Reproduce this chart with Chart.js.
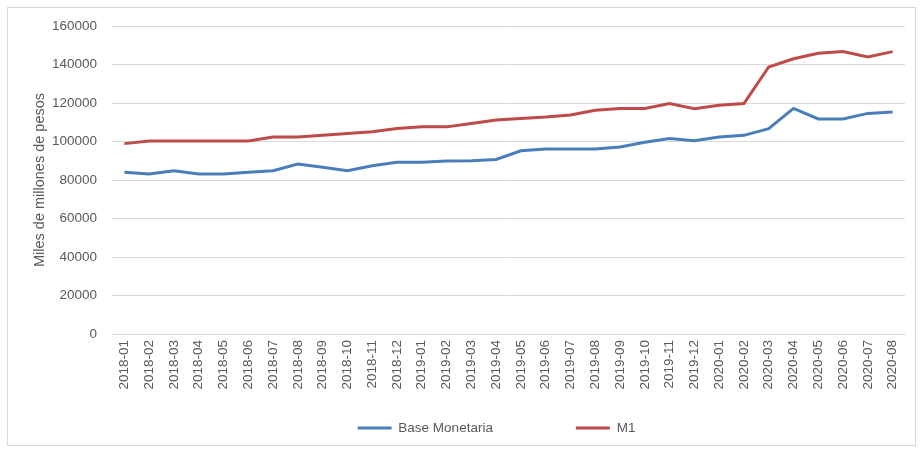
<!DOCTYPE html>
<html>
<head>
<meta charset="utf-8">
<script src="https://cdn.jsdelivr.net/npm/chart.js@4"></script>
<style>
  html, body { margin: 0; padding: 0; background: #fff; }
  #wrap { position: relative; width: 924px; height: 453px; }
  #frame { position: absolute; left: 7px; top: 7px; width: 909px; height: 439px; border: 1px solid #d9d9d9; box-sizing: border-box; pointer-events: none; }
</style>
</head>
<body>
<div id="wrap">
  <canvas id="chart" width="924" height="453"></canvas>
  <div id="frame"></div>
</div>
<script>
const meses = [
  '2018-01','2018-02','2018-03','2018-04','2018-05','2018-06','2018-07','2018-08','2018-09','2018-10','2018-11','2018-12',
  '2019-01','2019-02','2019-03','2019-04','2019-05','2019-06','2019-07','2019-08','2019-09','2019-10','2019-11','2019-12',
  '2020-01','2020-02','2020-03','2020-04','2020-05','2020-06','2020-07','2020-08'
];
const baseMonetaria = [
  84000, 83100, 84800, 83100, 83100, 84000, 84800, 88300, 86600, 84800, 87400, 89200,
  89200, 89900, 90000, 90700, 95200, 96100, 96100, 96100, 97100, 99600, 101600, 100400,
  102300, 103200, 106700, 117200, 111700, 111700, 114600, 115300
];
const m1 = [
  98900, 100300, 100300, 100300, 100300, 100300, 102300, 102300, 103200, 104200, 105100, 106800,
  107700, 107600, 109400, 111200, 112000, 112700, 113800, 116200, 117200, 117200, 119700, 117000,
  118800, 119700, 138700, 143000, 145800, 146700, 143900, 146700
];
const yTicks = { min: 0, max: 160000, step: 20000 };

const gris = '#595959';
const fuente = "'Liberation Sans', 'Open Sans', sans-serif";
const tam = 13.5;

// coloca la leyenda donde la tiene el original (hueco ancho entre series)
const legendOffset = {
  id: 'legendOffset',
  afterLayout(chart) {
    const lg = chart.legend;
    const pad = lg.options.labels.padding;
    lg.left += 30;
    lg.right += 30;
    lg.top = 428 - pad - tam / 2;
    lg.bottom = chart.height;
  },
};

new Chart(document.getElementById('chart'), {
  type: 'line',
  data: {
    labels: meses,
    datasets: [
      { label: 'Base Monetaria', data: baseMonetaria, borderColor: '#4a7ebb', backgroundColor: '#4a7ebb', borderWidth: 3, pointRadius: 0, tension: 0 },
      { label: 'M1', data: m1, borderColor: '#be4b48', backgroundColor: '#be4b48', borderWidth: 3, pointRadius: 0, tension: 0 },
    ],
  },
  plugins: [legendOffset],
  options: {
    responsive: false,
    animation: false,
    layout: { padding: { left: 28, right: 19, top: 26, bottom: 27 } },
    plugins: {
      tooltip: { enabled: false },
      legend: {
        position: 'bottom',
        maxHeight: 30,
        labels: {
          color: gris, font: { family: fuente, size: tam },
          usePointStyle: true, pointStyle: 'line', pointStyleWidth: 34, padding: 83,
        },
      },
    },
    scales: {
      x: {
        offset: true,
        grid: { display: false, drawTicks: false },
        border: { display: true, color: '#d9d9d9' },
        ticks: { color: gris, font: { family: fuente, size: tam }, minRotation: 90, maxRotation: 90, autoSkip: false, padding: 6 },
        afterFit: (scale) => { scale.height = 62; },
      },
      y: {
        min: yTicks.min,
        max: yTicks.max,
        grid: { color: '#d9d9d9', drawTicks: false },
        border: { display: false },
        ticks: { stepSize: yTicks.step, color: gris, font: { family: fuente, size: tam }, padding: 15, callback: (v) => String(v) },
        title: { display: true, text: 'Miles de millones de pesos', color: gris, font: { family: fuente, size: 14.5 }, padding: 3 },
        afterFit: (scale) => { scale.width = 84; },
      },
    },
  },
});
</script>
</body>
</html>
